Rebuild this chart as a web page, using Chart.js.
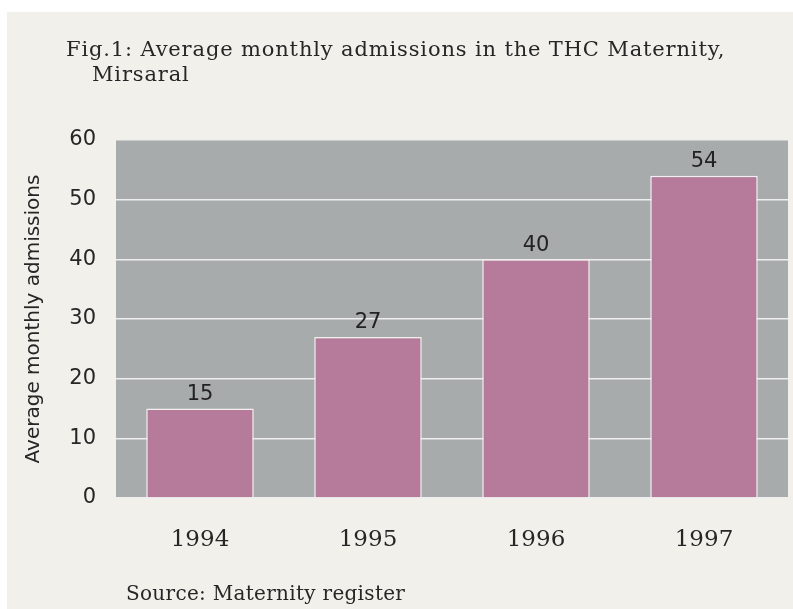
<!DOCTYPE html>
<html>
<head>
<meta charset="utf-8">
<script src="https://cdn.jsdelivr.net/npm/chart.js@4/dist/chart.umd.min.js"></script>
<style>
  html, body { margin: 0; padding: 0; background: #ffffff; }
  #wrap { position: absolute; left: 0; top: 0; width: 793px; height: 609px; background: #f1f0eb; overflow: hidden; }
  #edge { position: absolute; left: 0; top: 0; width: 793px; height: 12px; background: #ffffff; }
  #edgeL { position: absolute; left: 0; top: 0; width: 7px; height: 609px; background: #ffffff; }
  canvas { position: absolute; left: 0; top: 0; }
  .title { position: absolute; font-family: "DejaVu Serif", serif; font-size: 21px; color: #262626; letter-spacing: 0.85px; white-space: nowrap; line-height: 24px; }
  .src { position: absolute; left: 126px; top: 581px; font-family: "DejaVu Serif", serif; font-size: 20px; color: #262626; letter-spacing: 0.3px; white-space: nowrap; line-height: 24px; }
</style>
</head>
<body>
<div id="wrap">
  <canvas id="c" width="793" height="609"></canvas>
  <div id="edge"></div>
  <div id="edgeL"></div>
  <div class="title" style="left:66px; top:37px;">Fig.1: Average monthly admissions in the THC Maternity,</div>
  <div class="title" style="left:92px; top:62px;">Mirsaral</div>
  <div class="src">Source: Maternity register</div>
</div>
<script>
const categories = ["1994", "1995", "1996", "1997"];
const admissions = [15, 27, 40, 54];
const yTicks = [0, 10, 20, 30, 40, 50, 60];

const bgPlugin = {
  id: 'plotBg',
  beforeDraw(chart) {
    const {ctx, chartArea: a} = chart;
    ctx.save();
    ctx.fillStyle = '#a8abab';
    ctx.fillRect(a.left, a.top, a.right - a.left, a.bottom - a.top);
    ctx.restore();
  }
};

const labelPlugin = {
  id: 'valueLabels',
  afterDatasetsDraw(chart) {
    const {ctx} = chart;
    const meta = chart.getDatasetMeta(0);
    ctx.save();
    ctx.fillStyle = '#222222';
    ctx.font = '21px "DejaVu Sans", sans-serif';
    ctx.textAlign = 'center';
    ctx.textBaseline = 'middle';
    meta.data.forEach((bar, i) => {
      ctx.fillText(String(chart.data.datasets[0].data[i]), bar.x, bar.y - 14);
    });
    ctx.restore();
  }
};

new Chart(document.getElementById('c'), {
  type: 'bar',
  data: {
    labels: categories,
    datasets: [{
      data: admissions,
      backgroundColor: '#b67b9b',
      borderColor: '#f4eef0',
      borderWidth: 1.5,
      categoryPercentage: 1.0,
      barPercentage: 0.64
    }]
  },
  options: {
    responsive: false,
    animation: false,
    events: [],
    layout: { padding: { top: 140, right: 5, left: 0, bottom: 0 } },
    plugins: { legend: { display: false }, tooltip: { enabled: false } },
    scales: {
      x: {
        grid: { display: false, drawTicks: false },
        border: { display: false },
        ticks: {
          color: '#262626',
          padding: 28,
          font: { family: '"DejaVu Serif", serif', size: 23 }
        },
        afterFit(scale) { scale.height = 111; }
      },
      y: {
        min: 0, max: 60,
        afterBuildTicks(scale) { scale.ticks = yTicks.map(v => ({ value: v })); },
        grid: { color: '#eeeeee', lineWidth: 1.5, drawTicks: false },
        border: { display: false },
        ticks: {
          color: '#262626',
          padding: 20,
          font: { family: '"DejaVu Sans", sans-serif', size: 21 }
        },
        title: {
          display: true,
          text: 'Average monthly admissions',
          color: '#262626',
          padding: { top: 22, bottom: 0 },
          font: { family: '"DejaVu Sans", sans-serif', size: 20 }
        },
        afterFit(scale) { scale.width = 116; }
      }
    }
  },
  plugins: [bgPlugin, labelPlugin]
});
</script>
</body>
</html>
